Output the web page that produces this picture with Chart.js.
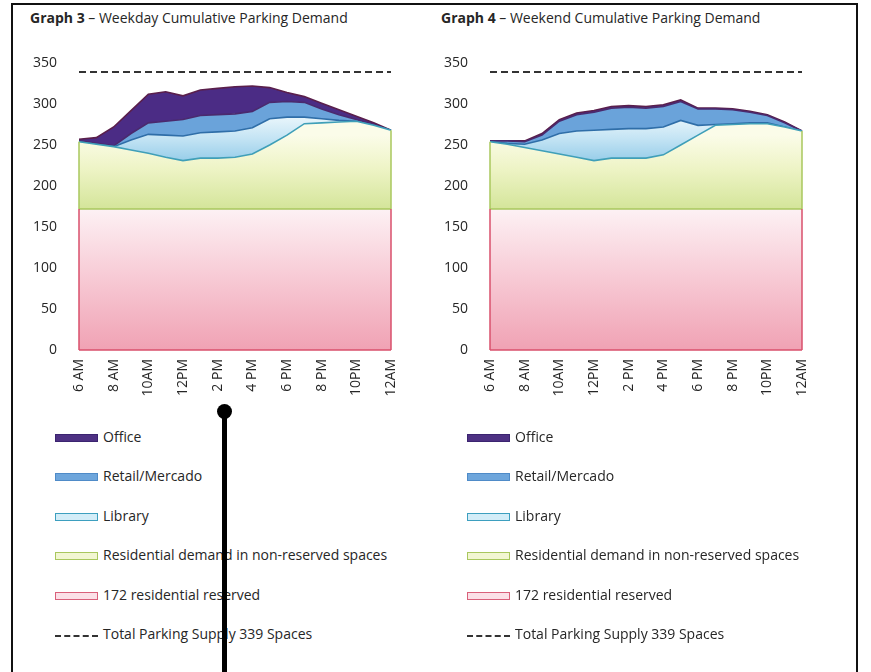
<!DOCTYPE html>
<html>
<head>
<meta charset="utf-8">
<script src="https://cdn.jsdelivr.net/npm/chart.js@4/dist/chart.umd.min.js"></script>
<style>
  html, body { margin: 0; padding: 0; background: #fff; }
  body { width: 871px; height: 672px; position: relative; overflow: hidden; font-family: "Open Sans", "DejaVu Sans", sans-serif; color: #262626; }
  .frame { position: absolute; left: 11px; top: 3px; width: 847px; height: 720px; border: 2px solid #111; box-sizing: border-box; }
  .title { position: absolute; top: 8px; font-size: 14px; white-space: nowrap; color: #262626; }
  .title b { font-weight: 700; }
  .panel { position: absolute; top: 0; width: 430px; height: 420px; }
  .legend { position: absolute; top: 428px; }
  .legend .item { position: relative; height: 39.4px; font-size: 14px; white-space: nowrap; }
  .legend .sw { position: absolute; left: 0; top: 6px; width: 43px; height: 8px; box-sizing: border-box; border: 1.5px solid; }
  .legend .dash { position: absolute; left: 0; top: 10px; width: 43px; height: 0; border-top: 2px dashed #333; }
  .legend .txt { position: absolute; left: 48px; top: -1px; line-height: 20px; }
  .pointer-line { position: absolute; left: 222px; top: 412px; width: 5px; height: 270px; background: #000; }
  .pointer-dot { position: absolute; left: 217px; top: 404px; width: 15px; height: 15px; border-radius: 50%; background: #000; }
</style>
</head>
<body>
<div class="frame"></div>
<div class="title" style="left:30px"><b>Graph 3</b> – Weekday Cumulative Parking Demand</div>
<div class="title" style="left:441px"><b>Graph 4</b> – Weekend Cumulative Parking Demand</div>
<div class="panel" style="left:0px"><canvas id="weekday" width="430" height="420"></canvas></div>
<div class="panel" style="left:411px"><canvas id="weekend" width="430" height="420"></canvas></div>
<div class="legend" id="legendWeekday" style="left:55px"></div>
<div class="legend" id="legendWeekend" style="left:467px"></div>
<div class="pointer-line"></div>
<div class="pointer-dot"></div>

<script>
// Hourly categories from 6 AM to midnight; every second one is labelled on the axis
const hourLabels = ['6 AM','7 AM','8 AM','9 AM','10AM','11AM','12PM','1 PM','2 PM','3 PM','4 PM','5 PM','6 PM','7 PM','8 PM','9 PM','10PM','11PM','12AM'];

// Spaces reserved for residents (constant) and total supply line
const reservedSeries = [172,172,172,172,172,172,172,172,172,172,172,172,172,172,172,172,172,172,172];
const supplySeries   = [339,339,339,339,339,339,339,339,339,339,339,339,339,339,339,339,339,339,339];

// Weekday demand by use (spaces, stacked on top of the reserved spaces)
const weekdayResidential = [82,79,76,72,68,63,59,62,62,63,67,78,90,104,105,106,107,102,96];
const weekdayLibrary     = [0,0,0,12,23,27,30,31,32,32,32,32,22,8,5,2,0,0,0];
const weekdayRetail      = [1,1,1,8,14,17,20,21,21,21,20,20,19,18,12,7,2,1,0];
const weekdayOffice      = [2,7,23,28,35,36,29,31,32,33,31,18,11,7,7,6,4,2,0];

// Weekend demand by use
const weekendResidential = [82,79,75,71,67,63,59,62,62,62,66,78,90,102,103,104,104,100,95];
const weekendLibrary     = [0,1,4,13,25,32,37,35,36,36,34,30,12,1,1,1,1,0,0];
const weekendRetail      = [1,3,3,6,15,20,22,26,26,25,25,23,20,19,17,13,9,5,0];
const weekendOffice      = [0,0,1,2,2,2,2,2,2,2,2,2,1,1,1,1,1,1,0];

const yTicks = { min: 0, max: 350, step: 50 };

// Vertical gradient helper, anchored to values on the y scale
function vGradient(topValue, bottomValue, stops, fallback) {
  return (context) => {
    const chart = context.chart;
    if (!chart.chartArea) return fallback;
    const y = chart.scales.y;
    const g = chart.ctx.createLinearGradient(0, y.getPixelForValue(topValue), 0, y.getPixelForValue(bottomValue));
    stops.forEach(([p, c]) => g.addColorStop(p, c));
    return g;
  };
}

const styles = {
  reserved:    { line: '#a9c75e', edge: '#d9506c', fill: vGradient(172, 0, [[0,'#fdf1f4'],[0.5,'#f7c9d4'],[1,'#f0a2b4']], '#f6c6d2'),
                 swFill: '#fbe0e7', swBorder: '#d9607a' },
  residential: { line: '#3f9fb8', edge: '#a9c75e', fill: vGradient(262, 172, [[0,'#fbfce9'],[0.45,'#eef4c6'],[1,'#d4e59a']], '#e8f0bd'),
                 swFill: '#f2f6d2', swBorder: '#a9c75e' },
  library:     { line: '#2f6ea8', fill: vGradient(288, 228, [[0,'#eef8fc'],[0.5,'#c4e4f4'],[1,'#93cbe8']], '#b8def2'),
                 swFill: '#d3edf8', swBorder: '#3d9fbf' },
  retail:      { line: '#4a2a6e', fill: '#6aa3da', swFill: '#6ea6dc', swBorder: '#4f8bc8' },
  office:      { line: '#5a1f4c', fill: '#4b2c85', swFill: '#4e3183', swBorder: '#3b2470' }
};

// Draws the left/right (and bottom) outlines of the bands using the library's own point positions
const bandEdges = {
  id: 'bandEdges',
  afterDatasetsDraw(chart) {
    const c = chart.ctx;
    const y0 = chart.scales.y.getPixelForValue(0);
    chart.data.datasets.forEach((ds, i) => {
      if (!ds.edgeColor) return;
      const pts = chart.getDatasetMeta(i).data;
      const prev = i > 0 ? chart.getDatasetMeta(i - 1).data : null;
      c.save();
      c.strokeStyle = ds.edgeColor;
      c.lineWidth = 1.5;
      c.beginPath();
      [0, pts.length - 1].forEach(k => {
        const base = prev ? prev[k].y : y0;
        c.moveTo(pts[k].x, pts[k].y);
        c.lineTo(pts[k].x, base);
      });
      if (!prev) {
        c.moveTo(pts[0].x, y0);
        c.lineTo(pts[pts.length - 1].x, y0);
      }
      c.stroke();
      c.restore();
    });
  }
};

function band(label, data, style, fill) {
  return {
    label, data, fill,
    backgroundColor: style.fill,
    borderColor: style.line,
    borderWidth: 1.6,
    pointRadius: 0,
    tension: 0,
    edgeColor: style.edge,
    stack: 'demand',
    swFill: style.swFill,
    swBorder: style.swBorder
  };
}

function buildChart(id, residential, library, retail, office) {
  const datasets = [
    band('172 residential reserved', reservedSeries, styles.reserved, 'origin'),
    band('Residential demand in non-reserved spaces', residential, styles.residential, '-1'),
    band('Library', library, styles.library, '-1'),
    band('Retail/Mercado', retail, styles.retail, '-1'),
    band('Office', office, styles.office, '-1'),
    {
      label: 'Total Parking Supply 339 Spaces',
      data: supplySeries,
      stack: 'supply',
      fill: false,
      borderColor: '#333',
      borderWidth: 2,
      borderDash: [7, 4],
      pointRadius: 0,
      tension: 0,
      dashed: true
    }
  ];
  return new Chart(document.getElementById(id), {
    type: 'line',
    data: { labels: hourLabels, datasets },
    plugins: [bandEdges],
    options: {
      responsive: false,
      animation: false,
      events: [],
      layout: { padding: { top: 63, right: 39, left: 0, bottom: 0 } },
      plugins: { legend: { display: false }, tooltip: { enabled: false } },
      scales: {
        x: {
          type: 'category',
          offset: false,
          grid: { display: false, drawTicks: false },
          border: { display: false },
          ticks: {
            autoSkip: false, minRotation: 90, maxRotation: 90, padding: 9,
            color: '#262626', font: { family: '"Open Sans", sans-serif', size: 14 },
            callback: (v, i) => (i % 2 === 0 ? hourLabels[i] : '')
          },
          afterFit: (s) => { s.height = 70; }
        },
        y: {
          stacked: true,
          min: yTicks.min, max: yTicks.max,
          grid: { display: false, drawTicks: false },
          border: { display: false },
          ticks: {
            stepSize: yTicks.step, padding: 22,
            color: '#262626', font: { family: '"Open Sans", sans-serif', size: 14 }
          },
          afterFit: (s) => { s.width = 79; }
        }
      }
    }
  });
}

function buildLegend(chart, elId) {
  const el = document.getElementById(elId);
  const order = [4, 3, 2, 1, 0, 5];
  order.forEach(i => {
    const ds = chart.data.datasets[i];
    const item = document.createElement('div');
    item.className = 'item';
    const mark = document.createElement('div');
    if (ds.dashed) {
      mark.className = 'dash';
    } else {
      mark.className = 'sw';
      mark.style.background = ds.swFill;
      mark.style.borderColor = ds.swBorder;
    }
    const txt = document.createElement('div');
    txt.className = 'txt';
    txt.textContent = ds.label;
    item.appendChild(mark);
    item.appendChild(txt);
    el.appendChild(item);
  });
}

const weekdayChart = buildChart('weekday', weekdayResidential, weekdayLibrary, weekdayRetail, weekdayOffice);
const weekendChart = buildChart('weekend', weekendResidential, weekendLibrary, weekendRetail, weekendOffice);
buildLegend(weekdayChart, 'legendWeekday');
buildLegend(weekendChart, 'legendWeekend');
</script>
</body>
</html>
